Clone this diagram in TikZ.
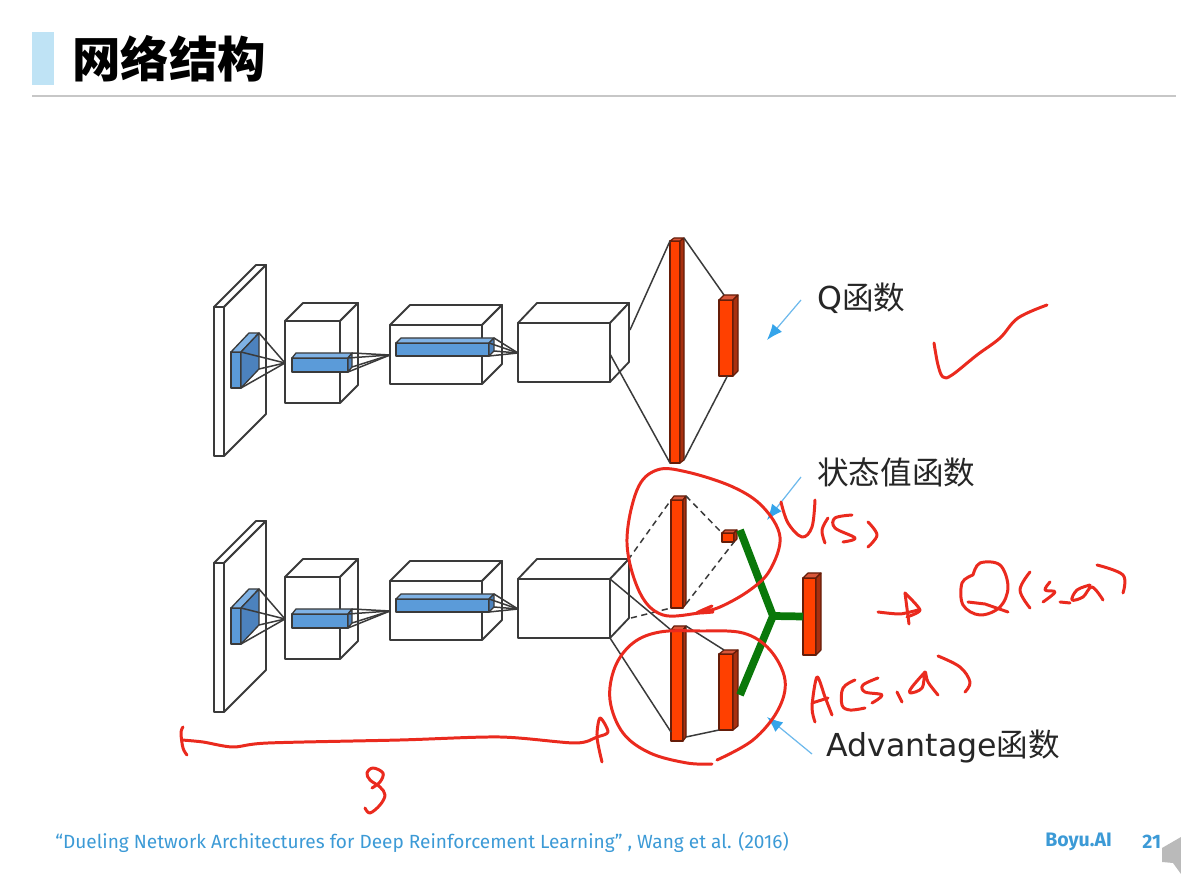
\documentclass[tikz,border=0pt]{standalone}
\usepackage{fontspec}
\usepackage{xcolor}
\usetikzlibrary{arrows.meta, calc}
\newfontfamily\cjkfont{Noto Sans CJK SC}
\newfontfamily\labelfont{DejaVu Sans}
\newfontfamily\footfont{Fira Sans}
\definecolor{WireF}{HTML}{FFFFFF}
\definecolor{WireT}{HTML}{FFFFFF}
\definecolor{WireS}{HTML}{FFFFFF}
\definecolor{BlueF}{HTML}{5B9BD9}
\definecolor{BlueT}{HTML}{7FB2E5}
\definecolor{BlueS}{HTML}{4C82BE}
\definecolor{RedF}{HTML}{FF4000}
\definecolor{RedT}{HTML}{D9573A}
\definecolor{RedS}{HTML}{A8300F}
\definecolor{Ink}{HTML}{3A3A3A}
\definecolor{Pen}{HTML}{EA2A1E}
\definecolor{Branch}{HTML}{0A780A}
\definecolor{SkyLine}{HTML}{6DB9EC}
\definecolor{SkyHead}{HTML}{35A4EA}
\definecolor{FootBlue}{HTML}{3C9AD6}
\definecolor{TitleBar}{HTML}{BFE3F5}
% name, colour kind, front face x1 y1 x2 y2, depth dx dy
\newcommand{\cuboid}[8]{
  \coordinate (#1-ftl) at (#3,#4);
  \coordinate (#1-ftr) at (#5,#4);
  \coordinate (#1-fbl) at (#3,#6);
  \coordinate (#1-fbr) at (#5,#6);
  \coordinate (#1-btl) at (#3+#7,#4-#8);
  \coordinate (#1-btr) at (#5+#7,#4-#8);
  \coordinate (#1-bbr) at (#5+#7,#6-#8);
  \draw[#2, fill=#2F] (#1-ftl) -- (#1-ftr) -- (#1-fbr) -- (#1-fbl) -- cycle;
  \draw[#2, fill=#2T] (#1-ftl) -- (#1-btl) -- (#1-btr) -- (#1-ftr) -- cycle;
  \draw[#2, fill=#2S] (#1-ftr) -- (#1-btr) -- (#1-bbr) -- (#1-fbr) -- cycle;
}

\begin{document}
\begin{tikzpicture}[
    x=0.02cm, y=-0.02cm,
    Wire/.style={draw=Ink, line width=1.05pt, line join=round},
    Blue/.style={draw=Ink, line width=0.75pt, line join=round},
    Red/.style={draw=RedS!60!black, line width=0.65pt, line join=round},
    link/.style={draw=Ink, line width=0.85pt},
    dashlink/.style={link, dashed, dash pattern=on 3.5pt off 2.5pt},
    branch/.style={draw=Branch, line width=4.4pt},
    pointer/.style={draw=SkyLine, line width=0.7pt, -{Latex[length=9pt, width=7pt, color=SkyHead]}},
    ink/.style={draw=Pen, line width=1.7pt, line cap=round, line join=round},
    sidenote/.style={font=\fontsize{18}{20}\selectfont, text=black!85, inner sep=0pt, anchor=west},
    footnote/.style={font=\footfont\fontsize{10.85}{12}\selectfont, text=FootBlue, inner sep=0pt, anchor=west}
]
\useasboundingbox (0,0) rectangle (1181,874);

% === Header ===
\fill[TitleBar] (32,32) rectangle (54,85);
\draw[black!22, line width=0.8pt] (32,96) -- (1176,96);
\node[inner sep=0pt, anchor=west] (title) at (72,59) {\cjkfont\bfseries\fontsize{27.6}{30}\selectfont 网络结构};

% === Top network ===
\cuboid{tslab}{Wire}{214}{307}{224}{456}{42}{42}
\cuboid{tcubea}{Wire}{285}{321}{340}{403}{18}{18}
\cuboid{tcubeb}{Wire}{390}{325}{482}{384}{20}{20}
\cuboid{tcubec}{Wire}{518}{323}{610}{382}{19}{20}
\cuboid{tblocka}{Blue}{231}{352}{241}{388}{18}{19}
\cuboid{tblockb}{Blue}{292}{358}{348}{372}{4}{5}
\cuboid{tblockc}{Blue}{396}{343}{489}{356}{5}{5}
\cuboid{tbar}{Red}{670}{241}{680}{463}{4}{3}
\cuboid{tout}{Red}{719}{300}{733}{376}{5}{5}
\coordinate (tina) at (285,363);
\coordinate (tinb) at (390,355);
\coordinate (tinc) at (518,353);
\coordinate (tupper) at (630,330);
\coordinate (tlower) at (610,354);
\foreach \corner in {ftr,fbr,btr,bbr} \draw[link] (tblocka-\corner) -- (tina);
\foreach \corner in {ftr,fbr,btr,bbr} \draw[link] (tblockb-\corner) -- (tinb);
\foreach \corner in {ftr,fbr,btr,bbr} \draw[link] (tblockc-\corner) -- (tinc);
\draw[link] (tupper) -- (tbar-ftl);
\draw[link] (tlower) -- (tbar-fbl);
\draw[link] (tbar-btr) -- (tout-btl);
\draw[link] (tbar-bbr) -- ($(tout-fbl)!0.6!(tout-fbr)$);

% === Bottom network ===
\cuboid{bslab}{Wire}{214}{563}{224}{712}{42}{42}
\cuboid{bcubea}{Wire}{285}{577}{340}{659}{18}{18}
\cuboid{bcubeb}{Wire}{390}{581}{482}{640}{20}{20}
\cuboid{bcubec}{Wire}{518}{579}{610}{638}{19}{20}
\cuboid{bblocka}{Blue}{231}{608}{241}{644}{18}{19}
\cuboid{bblockb}{Blue}{292}{614}{348}{628}{4}{5}
\cuboid{bblockc}{Blue}{396}{599}{489}{612}{5}{5}
\coordinate (bina) at (285,619);
\coordinate (binb) at (390,611);
\coordinate (binc) at (518,609);
\foreach \corner in {ftr,fbr,btr,bbr} \draw[link] (bblocka-\corner) -- (bina);
\foreach \corner in {ftr,fbr,btr,bbr} \draw[link] (bblockb-\corner) -- (binb);
\foreach \corner in {ftr,fbr,btr,bbr} \draw[link] (bblockc-\corner) -- (binc);

% value and advantage streams
\cuboid{vbar}{Red}{671}{500}{683}{608}{3}{4}
\cuboid{vout}{Red}{722}{533}{734}{542}{3}{3}
\cuboid{abar}{Red}{671}{630}{683}{741}{3}{4}
\cuboid{aout}{Red}{719}{654}{733}{730}{5}{4}
\cuboid{qout}{Red}{803}{578}{816}{655}{5}{5}
\coordinate (vupper) at (628,560);
\coordinate (vlower) at (631,618);
\draw[dashlink] (vupper) -- (vbar-ftl);
\draw[dashlink] (vlower) -- (vbar-fbl);
\draw[dashlink] (vbar-btr) -- (vout-ftl);
\draw[dashlink] (vbar-bbr) -- (vout-fbr);
\draw[link] (bcubec-ftr) -- (abar-ftl);
\draw[link] (bcubec-fbr) -- ($(abar-fbl)+(0,-9)$);
\draw[link] (abar-btr) -- (aout-btl);
\draw[link] (abar-bbr) -- (aout-fbl);

% aggregating branches
\coordinate (junction) at (773,616);
\coordinate (vtip) at (740,530);
\coordinate (atip) at (740,695);
\draw[branch] (vtip) -- (junction) -- (atip);
\draw[branch] (junction) -- ($(qout-ftl)!0.5!(qout-fbl)$);

% === Labels ===
\node[sidenote] (qlabel) at (817,298) {{\labelfont Q}{\cjkfont 函数}};
\node[sidenote] (vlabel) at (817,472) {\cjkfont 状态值函数};
\node[sidenote] (alabel) at (826,746) {{\labelfont Advantage}{\cjkfont 函数}};
\coordinate (qtail) at (801,300);
\coordinate (qhead) at (767,340);
\coordinate (vtail) at (801,477);
\coordinate (vhead) at (767,520);
\coordinate (atail) at (812,754);
\coordinate (ahead) at (767,717);
\draw[pointer] (qtail) -- (qhead);
\draw[pointer] (vtail) -- (vhead);
\draw[pointer] (atail) -- (ahead);

% === Pen marks ===
\draw[ink] plot[smooth, tension=0.6] coordinates {(934,343) (938,365) (943,377) (952,375) (977,355) (1000,338) (1018,318) (1047,305)};
% circles
\draw[ink] plot[smooth, tension=0.6] coordinates {(713,612) (700,613) (663,615) (640,593) (627,543) (637,490) (657,470) (687,472) (733,487) (763,507) (780,537) (770,570) (750,590) (720,607) (697,613) (712,606)};
\draw[ink] plot[smooth, tension=0.6] coordinates {(712,764) (687,763) (650,753) (623,733) (610,700) (615,667) (633,643) (660,632) (700,631) (743,633) (770,650) (785,680) (778,710) (753,740) (717,760)};
% V(S)
\draw[ink] plot[smooth, tension=0.6] coordinates {(781,502) (788,523) (802,537) (812,527) (815,500)};
\draw[ink] plot[smooth, tension=0.6] coordinates {(828,518) (822,530) (825,543)};
\draw[ink] plot[smooth, tension=0.6] coordinates {(852,515) (835,518) (835,528) (855,538) (843,542)};
\draw[ink] plot[smooth, tension=0.6] coordinates {(868,522) (877,535) (868,547)};
% arrow to Q
\draw[ink] plot[smooth, tension=0.4] coordinates {(878,612) (900,614) (918,610)};
\draw[ink] plot[smooth, tension=0.4] coordinates {(905,593) (920,610) (907,617)};
\draw[ink] (905,593) -- (909,624);
% Q(s,a)
\draw[ink] plot[smooth, tension=0.6] coordinates {(973,575) (980,563) (1000,565) (1008,587) (1000,607) (980,615) (963,605) (962,583) (973,575)};
\draw[ink] (968,602) -- (985,604) -- (1008,612);
\draw[ink] plot[smooth, tension=0.6] coordinates {(1030,572) (1020,590) (1030,608)};
\draw[ink] plot[smooth, tension=0.6] coordinates {(1050,582) (1045,590) (1055,592) (1043,602)};
\draw[ink] (1060,602) -- (1070,603);
\draw[ink] plot[smooth, tension=0.6] coordinates {(1090,585) (1077,590) (1072,600) (1083,597) (1092,587) (1103,600)};
\draw[ink] plot[smooth, tension=0.6] coordinates {(1097,565) (1123,575) (1123,593)};
% A(s,a)
\draw[ink] plot[smooth, tension=0.5] coordinates {(815,722) (812,707) (817,677) (825,697) (832,715)};
\draw[ink] (812,703) -- (828,698);
\draw[ink] plot[smooth, tension=0.6] coordinates {(855,680) (843,688) (842,705) (850,710) (865,708)};
\draw[ink] plot[smooth, tension=0.6] coordinates {(878,678) (863,685) (865,692) (882,695) (872,703)};
\draw[ink] (897,692) -- (902,702);
\draw[ink] plot[smooth, tension=0.6] coordinates {(925,672) (912,687) (910,693) (922,688) (925,672) (928,682) (938,695)};
\draw[ink] plot[smooth, tension=0.6] coordinates {(938,656) (960,667) (970,682) (965,692)};
% span under the convolutions
\draw[ink] plot[smooth, tension=0.6] coordinates {(183,727) (181,733) (183,748) (187,755)};
\draw[ink] plot[smooth, tension=0.5] coordinates {(182,740) (203,742) (233,747) (268,743) (400,740) (500,737) (575,743) (597,737) (608,732) (600,718) (597,737) (602,762)};
\draw[ink] plot[smooth, tension=0.6] coordinates {(365,808) (370,813) (380,805) (385,795) (380,787) (370,780) (367,773) (373,768) (383,773) (380,782) (372,788)};

% === Footer ===
\node[footnote] (source) at (55,842) {“Dueling Network Architectures for Deep Reinforcement Learning” , Wang et al. (2016)};
\node[footnote, font=\footfont\bfseries\fontsize{11.1}{12}\selectfont] (brand) at (1045,842) {Boyu.AI};
\node[footnote, font=\footfont\bfseries\fontsize{11.1}{12}\selectfont] (page) at (1142,842) {21};
\fill[black!27] (1162,848) -- (1181,837) -- (1181,874) -- (1173,863) -- (1162,862) -- cycle;
\end{tikzpicture}
\end{document}
